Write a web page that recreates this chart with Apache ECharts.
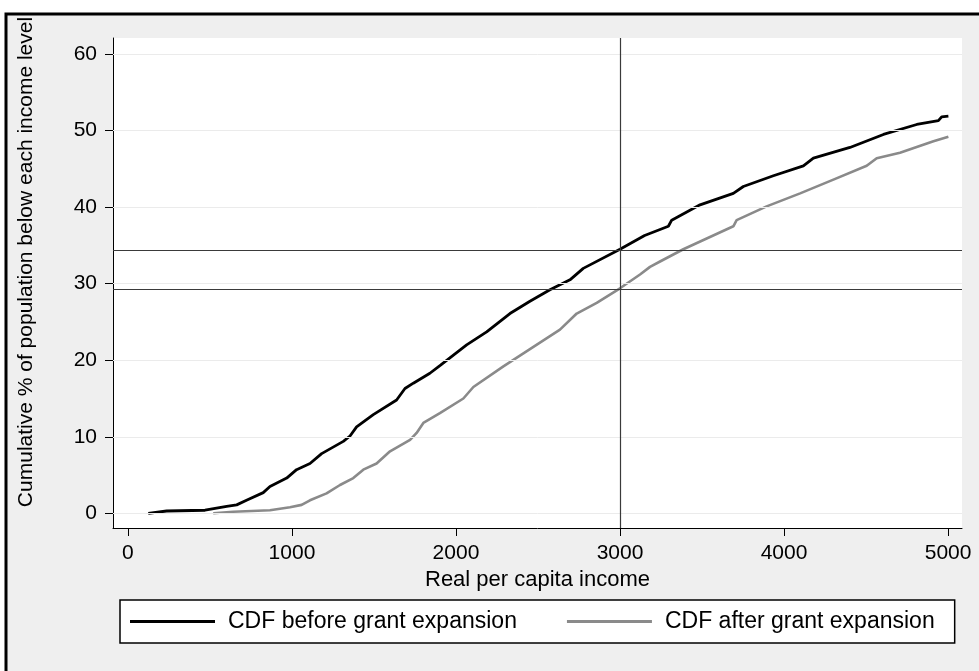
<!DOCTYPE html>
<html>
<head>
<meta charset="utf-8">
<script src="https://cdn.jsdelivr.net/npm/echarts@6/dist/echarts.min.js"></script>
<style>
html,body{margin:0;padding:0;background:#fff;}
#chart{width:979px;height:671px;}
</style>
</head>
<body>
<div id="chart"></div>
<script>
// ---- data ----
var beforeX = [124, 236, 470, 602, 663, 723, 825, 866, 968, 1028, 1110, 1181, 1313, 1354, 1394, 1496, 1638, 1689, 1740, 1841, 1902, 2065, 2187, 2329, 2451, 2573, 2695, 2776, 3000, 3150, 3295, 3315, 3488, 3691, 3752, 3935, 4118, 4179, 4402, 4606, 4809, 4941, 4961, 5002];
var beforeY = [0, 0.3, 0.4, 0.9, 1.1, 1.7, 2.7, 3.5, 4.6, 5.7, 6.5, 7.8, 9.4, 10.1, 11.3, 12.9, 14.8, 16.3, 17.0, 18.3, 19.3, 22.0, 23.7, 26.1, 27.7, 29.2, 30.5, 32.0, 34.5, 36.3, 37.5, 38.3, 40.3, 41.8, 42.7, 44.1, 45.4, 46.4, 47.8, 49.5, 50.8, 51.3, 51.8, 51.9];
var afterX = [520, 642, 866, 988, 1059, 1110, 1211, 1293, 1374, 1435, 1516, 1598, 1720, 1760, 1801, 1902, 2045, 2106, 2289, 2411, 2634, 2736, 2858, 3000, 3122, 3183, 3244, 3386, 3691, 3711, 3894, 4098, 4301, 4504, 4565, 4707, 4911, 5002];
var afterY = [0, 0.2, 0.4, 0.8, 1.1, 1.7, 2.6, 3.7, 4.6, 5.7, 6.5, 8.1, 9.6, 10.5, 11.8, 13.1, 15.0, 16.5, 19.2, 20.9, 24.0, 26.1, 27.5, 29.4, 31.2, 32.2, 32.9, 34.5, 37.5, 38.3, 40.1, 41.8, 43.6, 45.4, 46.4, 47.1, 48.6, 49.2];
var xTicks = [0, 1000, 2000, 3000, 4000, 5000];
var yTicks = [0, 10, 20, 30, 40, 50, 60];
var refH = [34.4, 29.3];
var refV = [3000];
var seriesNames = ['CDF before grant expansion', 'CDF after grant expansion'];
var xTitle = 'Real per capita income';
var yTitle = 'Cumulative % of population below each income level';

function pairs(xs, ys) { return xs.map(function (x, i) { return [x, ys[i]]; }); }

var FONT = '"Liberation Sans", Arial, sans-serif';
var chart = echarts.init(document.getElementById('chart'), null, {renderer: 'canvas'});
var option = {
  backgroundColor: '#ffffff',
  animation: false,
  graphic: [{
    type: 'rect', z: -10, silent: true,
    shape: {x: 6, y: 14, width: 1000, height: 700},
    style: {fill: '#efefef', stroke: '#000', lineWidth: 3}
  }],
  grid: {left: 113, right: 17, top: 38, bottom: 143, show: true, backgroundColor: '#ffffff', borderWidth: 0, containLabel: false},
  xAxis: {
    type: 'value', min: -91, max: 5085,
    name: xTitle, nameLocation: 'middle', nameGap: 33,
    nameTextStyle: {fontFamily: FONT, fontSize: 22, color: '#000'},
    axisLine: {show: true, onZero: false, lineStyle: {color: '#000', width: 1}},
    axisTick: {show: true, length: 8, customValues: xTicks, lineStyle: {color: '#000', width: 1}},
    axisLabel: {customValues: xTicks, margin: 15, fontFamily: FONT, fontSize: 21, color: '#000', formatter: function (v) { return String(v); }},
    splitLine: {show: false}
  },
  yAxis: {
    type: 'value', min: -1.92, max: 62.1,
    name: yTitle, nameLocation: 'middle', nameGap: 76, nameRotate: 90,
    nameTextStyle: {fontFamily: FONT, fontSize: 21, color: '#000', padding: [0, 0, 0, 42]},
    axisLine: {show: true, onZero: false, lineStyle: {color: '#000', width: 1}},
    axisTick: {show: true, length: 8, customValues: yTicks, lineStyle: {color: '#000', width: 1}},
    axisLabel: {customValues: yTicks, margin: 16, fontFamily: FONT, fontSize: 21, color: '#000', formatter: function (v) { return String(v); }},
    splitLine: {show: false}
  },
  legend: {
    left: 120, top: 600, orient: 'horizontal',
    data: seriesNames,
    backgroundColor: '#fff', borderColor: '#000', borderWidth: 1.5,
    padding: [10, 20, 10, 10],
    itemWidth: 85, itemHeight: 3, itemGap: 50, icon: 'rect',
    textStyle: {fontFamily: FONT, fontSize: 23, color: '#000', padding: [0, 0, 0, 8]}
  },
  series: [
    {
      type: 'line', name: 'grid', data: [], silent: true, z: 1,
      markLine: {silent: true, symbol: 'none', label: {show: false},
        lineStyle: {color: '#ebebeb', width: 1, type: 'solid'},
        data: yTicks.map(function (v) { return {yAxis: v}; })}
    },
    {
      type: 'line', name: seriesNames[0], data: pairs(beforeX, beforeY), showSymbol: false, z: 4,
      lineStyle: {color: '#000', width: 2.8}, itemStyle: {color: '#000'},
      markLine: {silent: true, symbol: 'none', label: {show: false},
        lineStyle: {color: '#3a3a3a', width: 1.2, type: 'solid'},
        data: refH.map(function (v) { return {yAxis: v}; }).concat(refV.map(function (v) { return {xAxis: v}; }))}
    },
    {
      type: 'line', name: seriesNames[1], data: pairs(afterX, afterY), showSymbol: false, z: 3,
      lineStyle: {color: '#8a8a8a', width: 2.6}, itemStyle: {color: '#8a8a8a'}
    }
  ]
};
chart.setOption(option);
</script>
</body>
</html>
